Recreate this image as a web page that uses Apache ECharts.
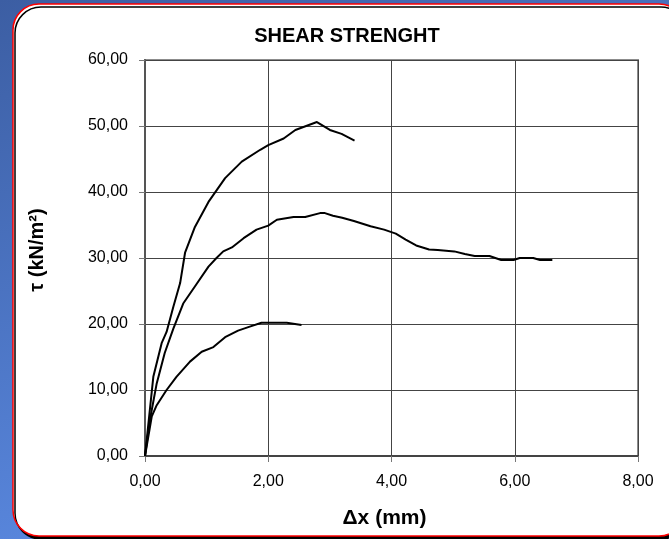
<!DOCTYPE html>
<html>
<head>
<meta charset="utf-8">
<script src="https://cdn.jsdelivr.net/npm/echarts@6/dist/echarts.min.js"></script>
<style>
html,body{margin:0;padding:0;}
#chart{width:669px;height:539px;}
</style>
</head>
<body>
<div id="chart"></div>
<script>
// Data
var titleText = 'SHEAR STRENGHT';
var xAxisName = '\u0394x (mm)';
var yAxisName = '\u03c4 (kN/m\u00b2)';
var xTicks = [0, 2, 4, 6, 8];
var yTicks = [0, 10, 20, 30, 40, 50, 60];

var xA = [0, 0.135, 0.27, 0.35, 0.46, 0.57, 0.65, 0.81, 1.03, 1.30, 1.57, 1.87, 2.00, 2.25, 2.44, 2.79, 3.00, 3.19, 3.40];
var yA = [0, 12.0, 17.1, 18.8, 22.6, 26.2, 30.8, 34.7, 38.5, 42.1, 44.6, 46.4, 47.1, 48.1, 49.4, 50.6, 49.4, 48.8, 47.8];

var xB = [0, 0.08, 0.19, 0.32, 0.46, 0.62, 0.84, 1.03, 1.16, 1.27, 1.41, 1.60, 1.81, 2.00, 2.14, 2.41, 2.60, 2.84, 2.92, 3.05, 3.20, 3.39, 3.66, 3.88, 4.07, 4.23, 4.40, 4.61, 4.75, 5.02, 5.19, 5.35, 5.59, 5.78, 5.98, 6.08, 6.30, 6.41, 6.61];
var yB = [0, 5.5, 11.0, 15.6, 19.3, 23.1, 26.1, 28.7, 30.0, 31.0, 31.6, 33.0, 34.3, 34.9, 35.8, 36.2, 36.2, 36.8, 36.8, 36.4, 36.1, 35.6, 34.8, 34.3, 33.7, 32.8, 31.9, 31.3, 31.2, 31.0, 30.6, 30.3, 30.3, 29.7, 29.7, 30.0, 30.0, 29.7, 29.7];

var xC = [0, 0.11, 0.19, 0.35, 0.51, 0.73, 0.92, 1.11, 1.30, 1.51, 1.70, 1.89, 2.30, 2.54];
var yC = [0, 6.0, 7.7, 10.0, 12.0, 14.3, 15.8, 16.5, 18.0, 19.0, 19.6, 20.2, 20.2, 19.85];

function pairs(xs, ys) {
  return xs.map(function (x, i) { return [x, ys[i]]; });
}
function fmt(v) { return v.toFixed(2).replace('.', ','); }

var FONT = '"Liberation Sans", Arial, sans-serif';

function lineSeries(xs, ys) {
  return {
    type: 'line',
    data: pairs(xs, ys),
    showSymbol: false,
    symbol: 'none',
    smooth: false,
    lineStyle: { color: '#000', width: 2 },
    z: 5
  };
}

var chart = echarts.init(document.getElementById('chart'), null, { renderer: 'canvas' });
chart.setOption({
  animation: false,
  backgroundColor: {
    type: 'linear', x: 0, y: 0, x2: 0.3, y2: 1,
    colorStops: [
      { offset: 0, color: '#3c5ea3' },
      { offset: 1, color: '#5b8ae2' }
    ]
  },
  graphic: [
    {
      type: 'rect',
      z: -100,
      silent: true,
      shape: { x: 13, y: 4, width: 672, height: 532, r: 26 },
      style: {
        fill: '#ffffff',
        stroke: '#ff0000',
        lineWidth: 1.5,
        shadowColor: '#000000',
        shadowOffsetX: 2,
        shadowOffsetY: 3,
        shadowBlur: 0
      }
    }
  ],
  title: {
    text: titleText,
    left: 342,
    top: 21,
    textAlign: 'center',
    textStyle: { fontFamily: FONT, fontSize: 20, fontWeight: 'bold', color: '#000' }
  },
  grid: {
    left: 145, top: 60, width: 493, height: 396,
    show: true, borderColor: '#8c8c8c', borderWidth: 2, backgroundColor: 'transparent'
  },
  xAxis: {
    type: 'value',
    min: xTicks[0], max: xTicks[xTicks.length - 1], interval: 2,
    name: xAxisName,
    nameLocation: 'middle',
    nameGap: 52,
    nameTextStyle: { fontFamily: FONT, fontSize: 21, fontWeight: 'bold', color: '#000', padding: [0, 14, 0, 0] },
    axisLine: { show: true, lineStyle: { color: '#444', width: 2 } },
    axisTick: { show: true, inside: false, length: 6, lineStyle: { color: '#777', width: 1 } },
    splitLine: { show: true, lineStyle: { color: '#444', width: 1 } },
    axisLabel: { formatter: fmt, margin: 18, fontFamily: FONT, fontSize: 16, color: '#000' }
  },
  yAxis: {
    type: 'value',
    min: yTicks[0], max: yTicks[yTicks.length - 1], interval: 10,
    name: yAxisName,
    nameLocation: 'middle',
    nameRotate: 90,
    nameGap: 98,
    nameTextStyle: { fontFamily: FONT, fontSize: 20, fontWeight: 'bold', color: '#000', padding: [0, 0, 0, 16] },
    axisLine: { show: true, lineStyle: { color: '#555', width: 2 } },
    axisTick: { show: true, inside: false, length: 6, lineStyle: { color: '#777', width: 1 } },
    splitLine: { show: true, lineStyle: { color: '#444', width: 1 } },
    axisLabel: { formatter: fmt, margin: 17, fontFamily: FONT, fontSize: 16, color: '#000' }
  },
  series: [
    lineSeries(xA, yA),
    lineSeries(xB, yB),
    lineSeries(xC, yC)
  ]
});
</script>
</body>
</html>
